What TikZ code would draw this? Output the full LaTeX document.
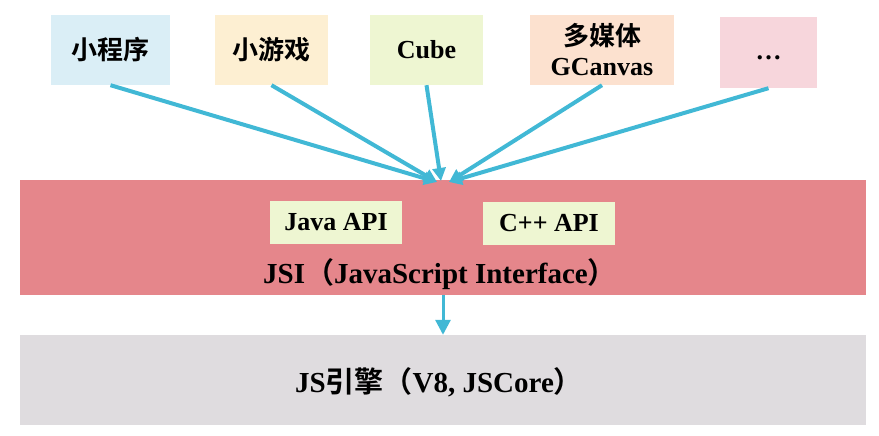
\documentclass[tikz,border=0pt]{standalone}
\usepackage{fontspec}
\setmainfont{Liberation Serif}
\newfontfamily\cjk[BoldFont={Noto Sans CJK SC Bold}]{Noto Sans CJK SC}
\usetikzlibrary{arrows.meta}

\definecolor{boxblue}{HTML}{DAEEF6}
\definecolor{boxyellow}{HTML}{FDEFD2}
\definecolor{boxgreen}{HTML}{EEF6D2}
\definecolor{boxpeach}{HTML}{FCE1CF}
\definecolor{boxpink}{HTML}{F7D6DC}
\definecolor{bandred}{HTML}{E5868B}
\definecolor{bandgrey}{HTML}{DFDCDF}
\definecolor{linkblue}{HTML}{41B8D5}

\tikzset{
	app/.style={minimum height=70pt, inner sep=0pt, font=\bfseries\fontsize{26}{28}\selectfont},
	band/.style={minimum width=846pt, inner sep=0pt},
	api/.style={fill=boxgreen, minimum width=132pt, minimum height=43pt, inner sep=0pt, font=\bfseries\fontsize{26}{28}\selectfont},
	caption/.style={font=\bfseries\fontsize{29}{31}\selectfont},
	link/.style={linkblue, line width=4pt, -{Triangle[length=13pt,width=13pt]}}
}

\begin{document}
\begin{tikzpicture}[x=1pt, y=-1pt]
					\useasboundingbox (0,0) rectangle (879,436);

					\node[app, fill=boxblue, minimum width=119pt] (mini) at (110.5,50) {\cjk 小程序};
					\node[app, fill=boxyellow, minimum width=113pt] (game) at (271.5,50) {\cjk 小游戏};
					\node[app, fill=boxgreen, minimum width=113pt] (cube) at (426.5,50) {Cube};
					\node[app, fill=boxpeach, minimum width=144pt, align=center] (media) at (602,50) {{\cjk 多媒体}\\[2pt]GCanvas};
					\node[app, fill=boxpink, minimum width=97pt, minimum height=71pt] (more) at (768.5,52.5) {};
					\node[font=\bfseries\fontsize{26}{28}\selectfont] (moretext) at (768.5,58) {…};

					\node[band, fill=bandred, minimum height=115pt] (jsi) at (443,237.5) {};
					\node[api] (javaapi) at (336,222.5) {Java API};
					\node[api] (cppapi) at (549,223.5) {C++ API};
					\node[caption] (jsilabel) at (440,274) {JSI{\cjk （}JavaScript Interface{\cjk ）}};

					\node[band, fill=bandgrey, minimum height=90pt] (engine) at (443,380) {};
					\node[caption] (enginelabel) at (439,382) {JS{\cjk 引擎（}V8, JSCore{\cjk ）}};

					\coordinate (hubl) at (437,182);
					\coordinate (hubc) at (441,181);
					\coordinate (hubr) at (449,182);

					\draw[link] (mini.south) -- (hubl);
					\draw[link] (game.south) -- (hubl);
					\draw[link] (cube.south) -- (hubc);
					\draw[link] (media.south) -- (hubr);
					\draw[link] (more.south) -- (hubr);

					\draw[link, line width=3pt, -{Triangle[length=15pt,width=15pt]}] (jsi.south) -- (engine.north);
				\end{tikzpicture}
\end{document}
